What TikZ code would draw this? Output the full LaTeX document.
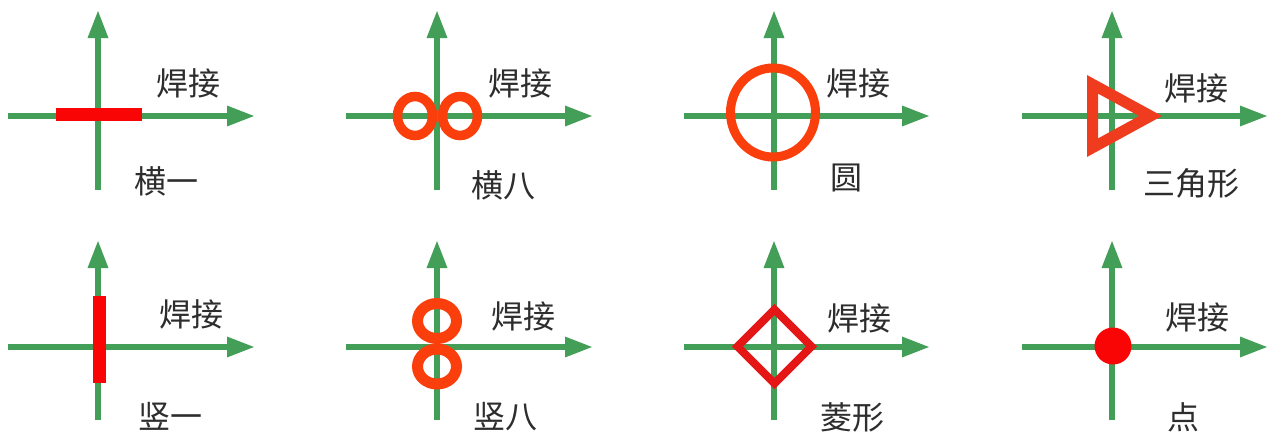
\documentclass[tikz,border=0pt]{standalone}
\usepackage{fontspec}
\newfontfamily\cjk{Noto Sans CJK SC}
\usetikzlibrary{arrows.meta}
\definecolor{axisgreen}{RGB}{67,158,88}
\definecolor{markred}{RGB}{250,5,5}
\definecolor{ringorange}{RGB}{250,62,12}
\definecolor{trired}{RGB}{240,60,30}
\definecolor{diamondred}{RGB}{228,22,22}
\definecolor{textgray}{RGB}{45,45,45}
\begin{document}
\begin{tikzpicture}[x=1pt,y=-1pt,
  axis/.style={draw=axisgreen, line width=6pt, -{Triangle[length=28pt,width=19pt]}},
  lbl/.style={font=\cjk\fontsize{32}{32}\selectfont, text=textgray, inner sep=0pt},
  ring/.style={draw=ringorange, line width=9.5pt},
]
\useasboundingbox (0,0) rectangle (1271,434);

% axes
\foreach \c/\xs/\xv/\xe in {1/8/98/255, 2/346/437/593, 3/684/774/930, 4/1022/1112/1268} {
  \foreach \r/\yh/\yt/\yb in {1/116/10/190, 2/347/240/420} {
    \coordinate (hs\c\r) at (\xs,\yh);
    \coordinate (he\c\r) at (\xe,\yh);
    \coordinate (vs\c\r) at (\xv,\yb);
    \coordinate (ve\c\r) at (\xv,\yt);
    \draw[axis] (hs\c\r) -- (he\c\r);
    \draw[axis] (vs\c\r) -- (ve\c\r);
  }
}

% panel 1: horizontal bar
\fill[markred] (56,108) rectangle (142,121);
% panel 2: horizontal eight
\draw[ring] (415,116) ellipse [x radius=17.5, y radius=19.5];
\draw[ring] (460,116) ellipse [x radius=17.5, y radius=19.5];
% panel 3: circle
\draw[ringorange, line width=9pt] (773,112.5) ellipse [x radius=42.5, y radius=44.5];
% panel 4: triangle
\draw[trired, line width=11pt, line join=miter] (1092.5,84.3) -- (1092.5,147.7) -- (1150.5,116) -- cycle;

% panel 5: vertical bar
\fill[markred] (92.5,296) rectangle (105.5,383);
% panel 6: vertical eight
\draw[ringorange, line width=11pt] (437,321) ellipse [x radius=19.5, y radius=17.5];
\draw[ringorange, line width=11pt] (437,366.5) ellipse [x radius=19.5, y radius=17.5];
% panel 7: diamond
\draw[diamondred, line width=8pt, line join=miter] (774.5,309.5) -- (811.5,346.5) -- (774.5,383.5) -- (737.5,346.5) -- cycle;
% panel 8: dot
\fill[markred] (1113,346) circle [radius=18.5];

% labels
\node[lbl] (w1) at (188,83) {焊接};
\node[lbl] (t1) at (166,181) {横一};
\node[lbl] (w2) at (520,83) {焊接};
\node[lbl] (t2) at (503,185) {横八};
\node[lbl] (w3) at (858,83) {焊接};
\node[lbl] (t3) at (846,178) {圆};
\node[lbl] (w4) at (1196,88) {焊接};
\node[lbl] (t4) at (1191,183) {三角形};
\node[lbl] (w5) at (191,314) {焊接};
\node[lbl] (t5) at (170,416) {竖一};
\node[lbl] (w6) at (523,316) {焊接};
\node[lbl] (t6) at (505,417) {竖八};
\node[lbl] (w7) at (859,318) {焊接};
\node[lbl] (t7) at (852,417) {菱形};
\node[lbl] (w8) at (1197,317) {焊接};
\node[lbl] (t8) at (1183,417) {点};
\end{tikzpicture}
\end{document}
